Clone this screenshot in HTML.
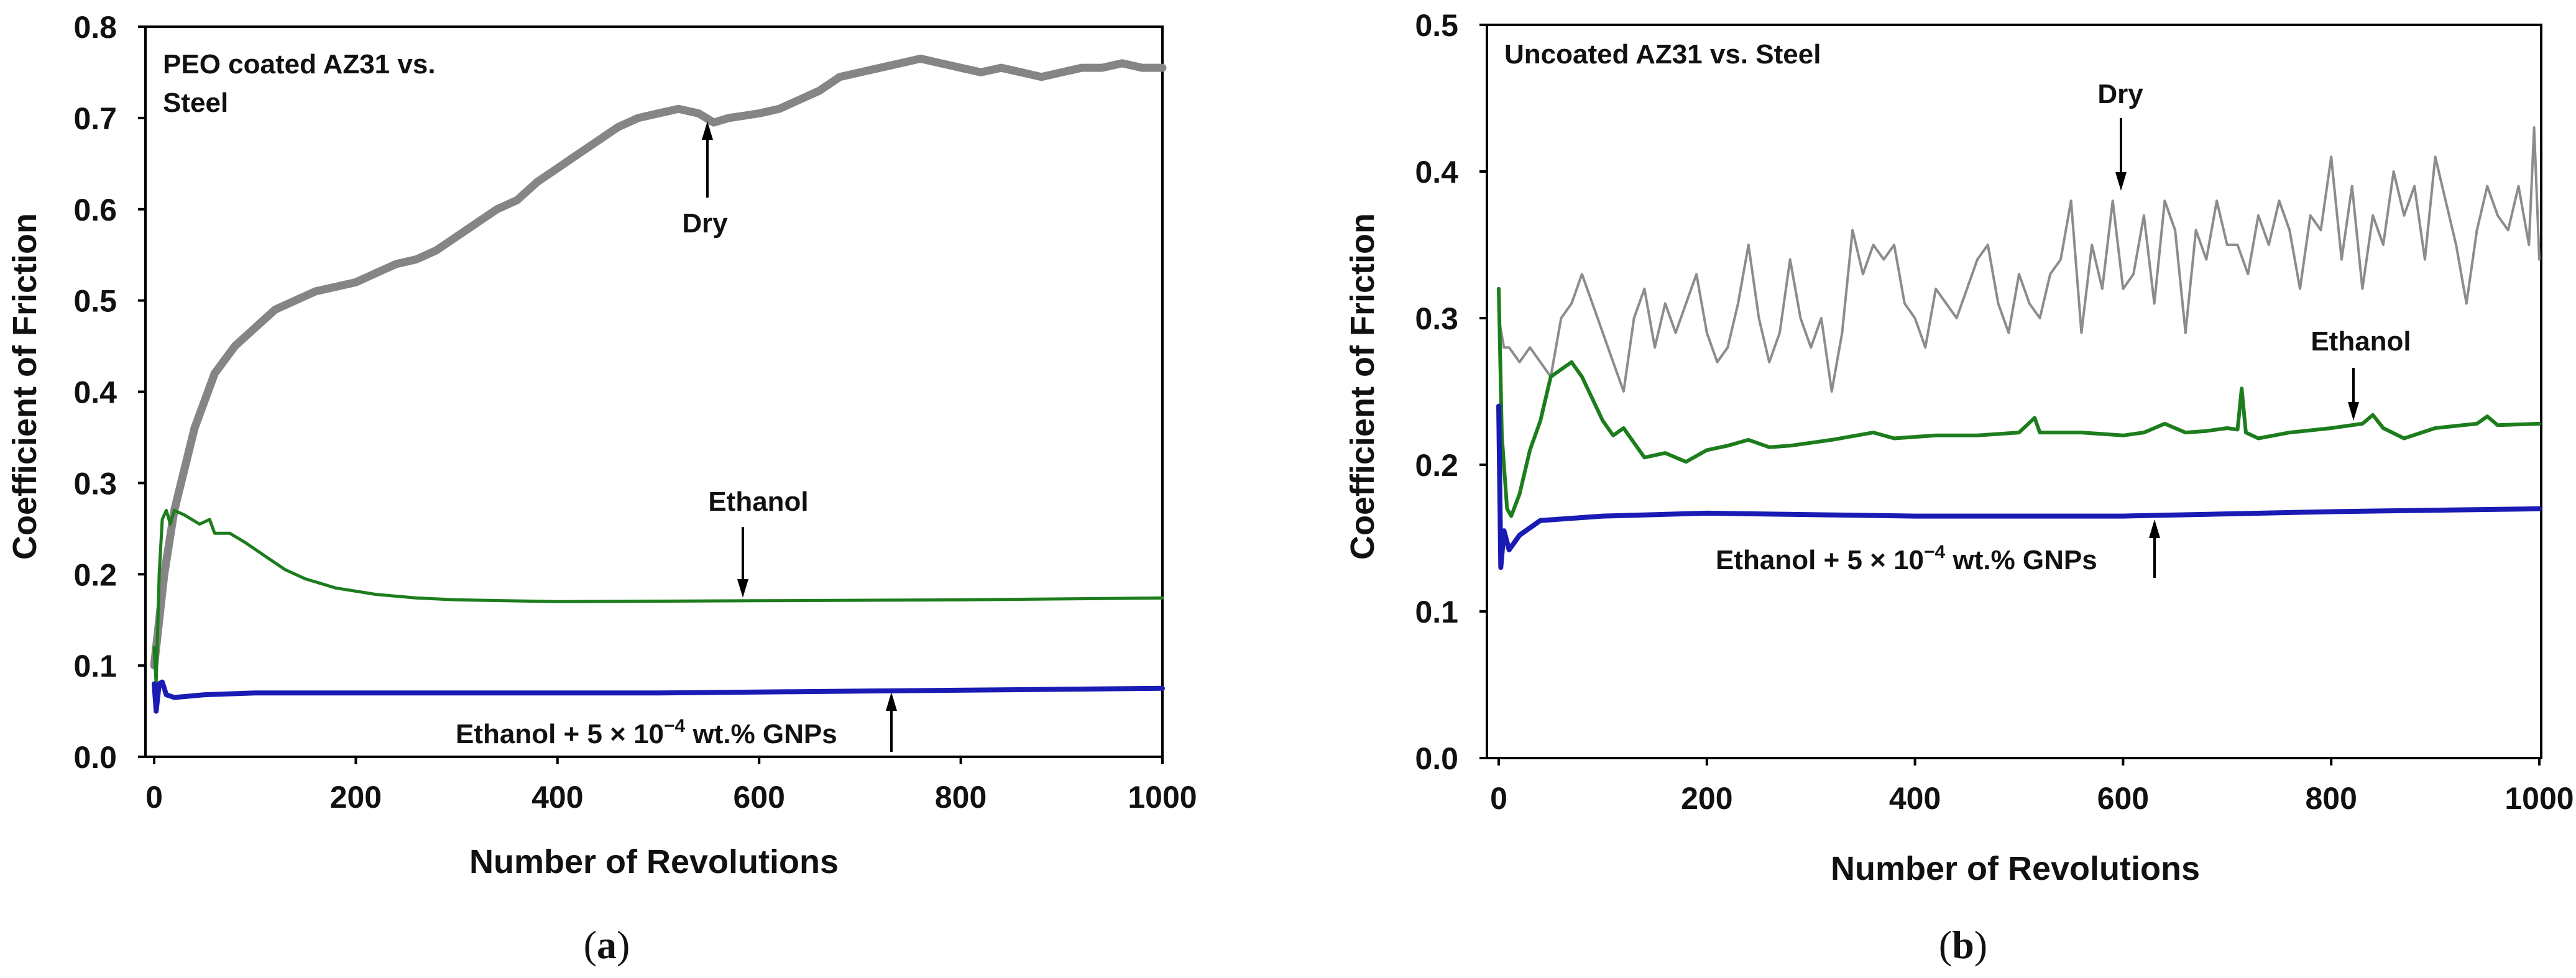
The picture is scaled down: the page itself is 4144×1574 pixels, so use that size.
<!DOCTYPE html>
<html><head><meta charset="utf-8"><style>
html,body{margin:0;padding:0;background:#fff;}
svg{display:block;}
text{font-family:"Liberation Sans Narrow","Liberation Sans",Arial,sans-serif;font-weight:bold;fill:#111;}
.tick{font-size:50px;}
.title{font-size:54px;}
.ann{font-size:44px;}
.cap{font-family:"Liberation Serif",serif;font-weight:normal;font-size:64px;}
</style></head><body>
<svg id="fig" width="4144" height="1574" viewBox="0 0 4144 1574" xmlns="http://www.w3.org/2000/svg">
<g id="pa"></g>
<g id="pb"></g>
<g id="arrows"></g>
</svg>
<script>
// ---------- data: chart (a) PEO coated ----------
const xTicks = [0,200,400,600,800,1000];
const yTicksA = ["0.0","0.1","0.2","0.3","0.4","0.5","0.6","0.7","0.8"];
const yTicksB = ["0.0","0.1","0.2","0.3","0.4","0.5"];

const aDryX = [0,5,10,20,40,60,80,100,120,140,160,180,200,220,240,260,280,300,320,340,360,380,400,420,440,460,480,500,520,540,555,570,600,620,640,660,680,700,720,740,760,780,800,820,840,860,880,900,920,940,960,980,1000];
const aDryY = [0.10,0.15,0.20,0.27,0.36,0.42,0.45,0.47,0.49,0.50,0.51,0.515,0.52,0.53,0.54,0.545,0.555,0.57,0.585,0.60,0.61,0.63,0.645,0.66,0.675,0.69,0.70,0.705,0.71,0.705,0.695,0.70,0.705,0.71,0.72,0.73,0.745,0.75,0.755,0.76,0.765,0.76,0.755,0.75,0.755,0.75,0.745,0.75,0.755,0.755,0.76,0.755,0.755];
const aEthX = [0,2,5,8,12,16,20,30,45,55,60,75,90,110,130,150,180,220,260,300,400,600,800,1000];
const aEthY = [0.12,0.08,0.20,0.26,0.27,0.255,0.27,0.265,0.255,0.26,0.245,0.245,0.235,0.22,0.205,0.195,0.185,0.178,0.174,0.172,0.170,0.171,0.172,0.174];
const aGnpX = [0,2,5,8,12,20,50,100,300,500,700,1000];
const aGnpY = [0.08,0.05,0.08,0.082,0.068,0.065,0.068,0.070,0.070,0.070,0.072,0.075];

// ---------- data: chart (b) uncoated ----------
const bDryX = [0,5,10,20,30,40,50,60,70,80,90,100,110,120,130,140,150,160,170,180,190,200,210,220,230,240,250,260,270,280,290,300,310,320,330,340,350,360,370,380,390,400,410,420,430,440,450,460,470,480,490,500,510,520,530,540,550,560,570,580,590,600,610,620,630,640,650,660,670,680,690,700,710,720,730,740,750,760,770,780,790,800,810,820,830,840,850,860,870,880,890,900,910,920,930,940,950,960,970,980,990,995,1000];
const bDryY = [0.30,0.28,0.28,0.27,0.28,0.27,0.26,0.30,0.31,0.33,0.31,0.29,0.27,0.25,0.30,0.32,0.28,0.31,0.29,0.31,0.33,0.29,0.27,0.28,0.31,0.35,0.30,0.27,0.29,0.34,0.30,0.28,0.30,0.25,0.29,0.36,0.33,0.35,0.34,0.35,0.31,0.30,0.28,0.32,0.31,0.30,0.32,0.34,0.35,0.31,0.29,0.33,0.31,0.30,0.33,0.34,0.38,0.29,0.35,0.32,0.38,0.32,0.33,0.37,0.31,0.38,0.36,0.29,0.36,0.34,0.38,0.35,0.35,0.33,0.37,0.35,0.38,0.36,0.32,0.37,0.36,0.41,0.34,0.39,0.32,0.37,0.35,0.40,0.37,0.39,0.34,0.41,0.38,0.35,0.31,0.36,0.39,0.37,0.36,0.39,0.35,0.43,0.34];
const bEthX = [0,3,8,12,20,30,40,50,60,70,80,90,100,110,120,130,140,160,180,200,220,240,260,280,300,320,360,380,420,460,500,515,520,560,600,620,640,660,680,700,710,714,718,730,760,800,830,840,850,870,900,940,950,960,1000];
const bEthY = [0.32,0.22,0.17,0.165,0.18,0.21,0.23,0.26,0.265,0.27,0.26,0.245,0.23,0.22,0.225,0.215,0.205,0.208,0.202,0.21,0.213,0.217,0.212,0.213,0.215,0.217,0.222,0.218,0.22,0.22,0.222,0.232,0.222,0.222,0.22,0.222,0.228,0.222,0.223,0.225,0.224,0.252,0.222,0.218,0.222,0.225,0.228,0.234,0.225,0.218,0.225,0.228,0.233,0.227,0.228];
const bGnpX = [0,2,5,10,20,40,100,200,400,600,800,1000];
const bGnpY = [0.24,0.13,0.155,0.142,0.152,0.162,0.165,0.167,0.165,0.165,0.168,0.170];

const NS = "http://www.w3.org/2000/svg";
function mk(parent, tag, attrs, txt){
  const e = document.createElementNS(NS, tag);
  for (const k in attrs) e.setAttribute(k, attrs[k]);
  if (txt !== undefined) e.textContent = txt;
  parent.appendChild(e);
  return e;
}

function drawChart(g, cfg){
  const sx = v => cfg.x0 + (v/1000)*(cfg.x1-cfg.x0);
  const sy = v => cfg.yb - (v/cfg.ymax)*(cfg.yb-cfg.yt);
  const frame = mk(g,'rect',{x:cfg.fl,y:cfg.yt,width:cfg.fr-cfg.fl,height:cfg.yb-cfg.yt,fill:'none',stroke:'#000','stroke-width':4});
  
  
  xTicks.forEach(t=>{
    const l = mk(g,'line',{x1:sx(t),x2:sx(t),y1:cfg.yb,y2:cfg.yb+12,stroke:'#000','stroke-width':4});
    
    
    const tx = mk(g,'text',{x:sx(t),y:cfg.yb+82,'text-anchor':'middle',class:'tick'},String(t));
    
    
  });
  cfg.yt_labels.forEach(s=>{
    const v = parseFloat(s);
    const l = mk(g,'line',{x1:cfg.fl-12,x2:cfg.fl,y1:sy(v),y2:sy(v),stroke:'#000','stroke-width':4});
    
    
    const tx = mk(g,'text',{x:cfg.ylx,y:sy(v)+18,'text-anchor':'end',class:'tick'},s);
    
    
  });
  cfg.series.forEach(s=>{
    const d = s.xs.map((x,i)=>(i?'L':'M')+sx(x).toFixed(1)+','+sy(s.ys[i]).toFixed(1)).join(' ');
    const p = mk(g,'path',{d:d,fill:'none',stroke:s.color,'stroke-width':s.w,'stroke-linejoin':'round','stroke-linecap':'round'});
    
    
  });
}

const pa = document.getElementById('pa');
drawChart(pa,{x0:248,x1:1870,fl:234,fr:1870,yt:43,yb:1218,ymax:0.8,ylx:188,yt_labels:yTicksA,series:[
  {xs:aDryX,ys:aDryY,color:'#858585',w:13,name:'dry-line'},
  {xs:aEthX,ys:aEthY,color:'#1d7d1d',w:5,name:'ethanol-line'},
  {xs:aGnpX,ys:aGnpY,color:'#1a1ab4',w:8,name:'gnp-line'}]});
const pb = document.getElementById('pb');
drawChart(pb,{x0:2411,x1:4085,fl:2392,fr:4088,yt:40,yb:1220,ymax:0.5,ylx:2346,yt_labels:yTicksB,series:[
  {xs:bDryX,ys:bDryY,color:'#8c8c8c',w:4,name:'dry-line'},
  {xs:bEthX,ys:bEthY,color:'#1d7d1d',w:6,name:'ethanol-line'},
  {xs:bGnpX,ys:bGnpY,color:'#1a1ab4',w:8,name:'gnp-line'}]});

// annotation arrows: [x, yFrom, yTo(tip), name]
const arrowsG = document.getElementById('arrows');
[[1138,318,195,'dry-arrow-a'],[1195,848,962,'ethanol-arrow-a'],[1434,1210,1114,'gnp-arrow-a'],
 [3412,190,307,'dry-arrow-b'],[3786,592,677,'ethanol-arrow-b'],[3466,930,836,'gnp-arrow-b']].forEach(a=>{
  const [x,y1,y2,n]=a; const dir = y2>y1?1:-1;
  const g = mk(arrowsG,'g',{});
  
  
  mk(g,'line',{x1:x,x2:x,y1:y1,y2:y2-dir*20,stroke:'#000','stroke-width':4});
  mk(g,'polygon',{points:`${x-9},${y2-dir*30} ${x+9},${y2-dir*30} ${x},${y2}`,fill:'#000'});
});
</script>
<svg width="4144" height="1574" viewBox="0 0 4144 1574" style="position:absolute;left:0;top:0" xmlns="http://www.w3.org/2000/svg">
<g>
<text class="title" transform="translate(58,622) rotate(-90)" text-anchor="middle" style="font-family:'Liberation Sans',sans-serif">Coefficient of Friction</text>
<text class="title" x="1052" y="1405" text-anchor="middle">Number of Revolutions</text>
<text class="cap" x="976" y="1542" text-anchor="middle">(<tspan font-weight="bold">a</tspan>)</text>
<text class="ann" x="262" y="118">PEO coated AZ31 vs.</text>
<text class="ann" x="262" y="180">Steel</text>
<text class="ann" x="1134" y="374" text-anchor="middle">Dry</text>
<text class="ann" x="1220" y="822" text-anchor="middle">Ethanol</text>
<text class="ann" x="733" y="1196">Ethanol + 5 × 10<tspan dy="-18" font-size="30">−4</tspan><tspan dy="18"> wt.% GNPs</tspan></text>
</g>
<g>
<text class="title" transform="translate(2210,622) rotate(-90)" text-anchor="middle" style="font-family:'Liberation Sans',sans-serif">Coefficient of Friction</text>
<text class="title" x="3242" y="1416" text-anchor="middle">Number of Revolutions</text>
<text class="cap" x="3158" y="1542" text-anchor="middle">(<tspan font-weight="bold">b</tspan>)</text>
<text class="ann" x="2420" y="102">Uncoated AZ31 vs. Steel</text>
<text class="ann" x="3411" y="166" text-anchor="middle">Dry</text>
<text class="ann" x="3798" y="564" text-anchor="middle">Ethanol</text>
<text class="ann" x="2760" y="916">Ethanol + 5 × 10<tspan dy="-18" font-size="30">−4</tspan><tspan dy="18"> wt.% GNPs</tspan></text>
</g>
</svg>
</body></html>
